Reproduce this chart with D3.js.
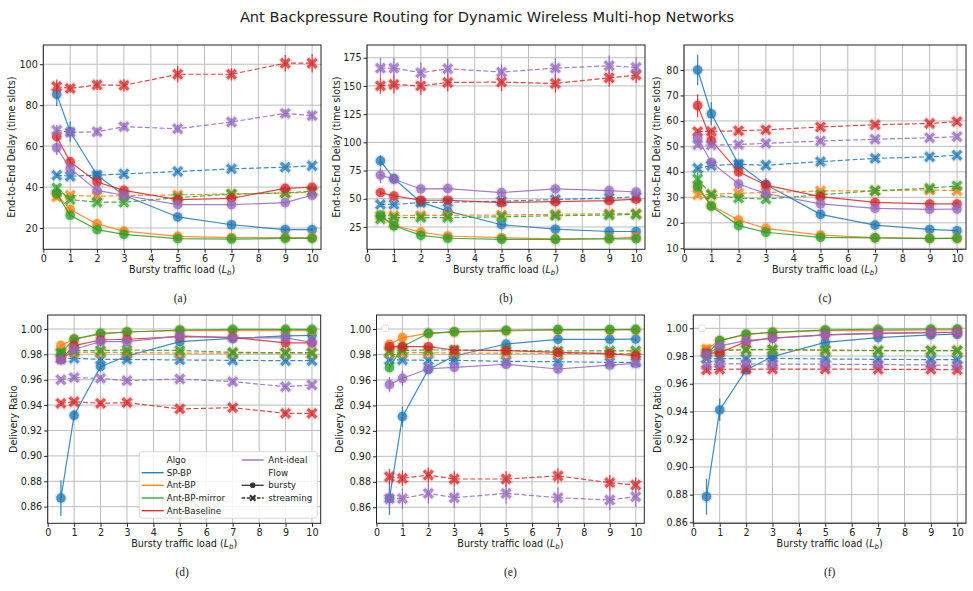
<!DOCTYPE html>
<html lang="en"><head>
<meta charset="utf-8">
<title>Ant Backpressure Routing</title>
<script src="https://cdn.jsdelivr.net/npm/d3@7/dist/d3.min.js"></script>
<style>
body { margin: 0; background: #fff; }
text { font-family: "DejaVu Sans", sans-serif; fill: #222; }
</style>
</head>
<body>
<script type="text/javascript">

var width = 973;
var height = 591;

// shared categories
var loads = [0.5, 1, 2, 3, 5, 7, 9, 10];
var algos = ["SP-BP", "Ant-BP", "Ant-BP-mirror", "Ant-Baseline", "Ant-ideal"];
var flows = ["bursty", "streaming"];
var colors = ["#1f77b4", "#ff7f0e", "#2ca02c", "#d62728", "#9467bd"];
var xTicks = [0, 1, 2, 3, 4, 5, 6, 7, 8, 9, 10];

var ticksA = [20, 40, 60, 80, 100];
var ticksB = [25, 50, 75, 100, 125, 150, 175];
var ticksC = [10, 20, 30, 40, 50, 60, 70, 80];
var ticksRatio = [0.86, 0.88, 0.90, 0.92, 0.94, 0.96, 0.98, 1.00];

// (a) delay, rows follow algos
var delayA_bursty = [
    [85.3, 67, 45.8, 36, 25.4, 21.6, 19.2, 19.2],
    [36.3, 29, 22, 18.5, 15.9, 15.3, 15.3, 15.3],
    [36.8, 26.2, 19.2, 16.9, 14.8, 14.6, 14.9, 14.9],
    [64.6, 52.3, 42.5, 38.4, 33.9, 34.5, 39.4, 39.9],
    [59.2, 49, 38.4, 36, 31.4, 31.4, 32.4, 36]
];
var delayA_streaming = [
    [45.8, 45.3, 45.8, 46.4, 47.6, 48.9, 49.7, 50.4],
    [35.2, 36, 35.5, 35.8, 36.2, 36.7, 37.1, 37.5],
    [39.6, 33.9, 32.6, 32.6, 34.9, 36.5, 37.1, 38],
    [89.1, 88.2, 89.9, 89.7, 95.1, 95.1, 100.5, 100.5],
    [67.8, 66.7, 67, 69.5, 68.5, 71.8, 76, 74.9]
];
var delayA_burstyErr = [
    [5.7, 5, 1, 1, 1, 1, 0.6, 0.6],
    [1, 1, 0.5, 0.5, 0.4, 0.4, 0.4, 0.4],
    [1, 1, 0.5, 0.5, 0.4, 0.4, 0.4, 0.4],
    [2.5, 2, 1, 1, 1, 1, 1.2, 1.2],
    [3.5, 2, 1, 1, 1, 1, 1, 1.2]
];
var delayA_streamingErr = [
    [1, 1, 1, 1, 1, 1, 1, 1],
    [1, 1, 1, 1, 1, 1, 1, 1],
    [1.5, 1, 1, 1, 1, 1, 1, 1],
    [3.4, 2, 2.5, 3, 4, 3, 4, 4.5],
    [2.5, 2, 2, 2, 2, 2, 2, 2.5]
];

// (b) delay
var delayB_bursty = [
    [83.6, 67.9, 47, 39, 27, 23, 21, 21],
    [34, 26.5, 20.5, 17, 15.5, 14.5, 15, 16],
    [35.5, 26, 17.5, 15, 14, 14, 14.5, 14.5],
    [55.5, 52.5, 48.7, 48.7, 46.6, 47.5, 48.4, 49.6],
    [71, 67.3, 58.7, 59, 55.5, 58.7, 57.2, 56]
];
var delayB_streaming = [
    [45, 45, 46.6, 47, 47.8, 49.3, 50.7, 51.6],
    [35, 35, 35.3, 35.3, 35.6, 36.2, 36.8, 36.8],
    [32, 33.3, 33.3, 33.3, 34, 35, 35.6, 36.2],
    [150.1, 151.3, 150.1, 153.1, 153.4, 152.2, 157.2, 159.6],
    [165.8, 165.8, 161.7, 165.2, 162.3, 165.8, 167.9, 166.4]
];
var delayB_burstyErr = [
    [5, 3, 1, 3, 1, 1, 1, 1],
    [1, 1, 1, 1, 1, 1, 1, 1],
    [1, 1, 1, 1, 1, 1, 1, 1],
    [2, 2, 1.5, 1.5, 1.5, 1.5, 1.5, 1.5],
    [7, 4, 2, 2, 2, 2, 2, 2]
];
var delayB_streamingErr = [
    [1.5, 1.5, 1.5, 1.5, 1.5, 1.5, 1.5, 1.5],
    [1, 1, 1, 1, 1, 1, 1, 1],
    [1, 1, 1, 1, 1, 1, 1, 1],
    [7, 8, 8, 8, 8, 8, 8, 7],
    [9, 9, 9, 9, 7, 9, 9, 9]
];

// (c) delay
var delayC_bursty = [
    [80, 62.8, 43, 35, 23.3, 19.1, 17.4, 16.9],
    [34.6, 26.8, 21.1, 17.8, 15.2, 14.2, 13.9, 14],
    [34, 26.5, 18.9, 16.3, 14.3, 14.1, 13.8, 13.9],
    [66, 52.3, 40, 34.8, 30.3, 28, 27.4, 27.4],
    [53.2, 43.7, 35.2, 31.5, 27.4, 25.7, 25.3, 25.4]
];
var delayC_streaming = [
    [41.4, 42.5, 43, 42.6, 44, 45.3, 45.9, 46.5],
    [31, 31.2, 31.6, 31.9, 32.5, 32.6, 32.9, 32.6],
    [37.2, 31, 29.7, 29.3, 31, 32.6, 33.6, 34.5],
    [55.8, 55.9, 56.1, 56.5, 57.6, 58.5, 59, 59.7],
    [50.6, 50.5, 50.7, 51.2, 52.1, 52.8, 53.4, 53.8]
];
var delayC_burstyErr = [
    [6, 4.5, 1, 2.5, 1, 0.8, 0.6, 0.6],
    [1, 0.8, 0.5, 0.5, 0.4, 0.4, 0.4, 0.4],
    [1.5, 0.8, 0.5, 0.5, 0.4, 0.4, 0.4, 0.4],
    [4.5, 2.5, 1, 1, 0.8, 0.8, 0.8, 0.8],
    [2, 1.5, 1, 0.8, 0.8, 0.8, 0.8, 0.8]
];
var delayC_streamingErr = [
    [1, 1, 1, 1, 1, 1, 1, 1],
    [1, 0.8, 0.8, 0.8, 0.8, 0.8, 0.8, 0.8],
    [3, 1, 1, 1, 1, 1, 1, 1],
    [1, 1, 1, 1, 1, 1, 1, 1],
    [1, 1, 1, 1, 1, 1, 1, 1]
];

// (d) delivery ratio
var ratioD_bursty = [
    [0.8668, 0.932, 0.9703, 0.9787, 0.990, 0.9926, 0.9945, 0.995],
    [0.987, 0.9919, 0.996, 0.9976, 0.9987, 0.9987, 0.9987, 0.9987],
    [0.981, 0.992, 0.9966, 0.9976, 0.9992, 0.9997, 0.9997, 0.9997],
    [0.976, 0.9869, 0.9913, 0.9919, 0.994, 0.9934, 0.989, 0.989],
    [0.9756, 0.984, 0.990, 0.990, 0.9945, 0.993, 0.993, 0.9895]
];
var ratioD_streaming = [
    [0.9769, 0.9769, 0.976, 0.976, 0.9756, 0.9753, 0.975, 0.975],
    [0.9815, 0.9815, 0.9815, 0.9815, 0.981, 0.981, 0.981, 0.981],
    [0.981, 0.983, 0.983, 0.9834, 0.983, 0.9816, 0.9813, 0.9813],
    [0.9414, 0.9427, 0.9414, 0.942, 0.937, 0.938, 0.9335, 0.9335],
    [0.960, 0.9617, 0.9611, 0.9593, 0.9606, 0.9585, 0.9545, 0.9559]
];
var ratioD_burstyErr = [
    [0.014, 0.004, 0.002, 0.001, 0.001, 0.001, 0.001, 0.001],
    [0.001, 0.001, 0.001, 0.001, 0.001, 0.001, 0.001, 0.001],
    [0.002, 0.001, 0.001, 0.001, 0.001, 0.001, 0.001, 0.001],
    [0.002, 0.001, 0.001, 0.001, 0.001, 0.001, 0.001, 0.001],
    [0.003, 0.002, 0.001, 0.001, 0.001, 0.001, 0.001, 0.001]
];
var ratioD_streamingErr = [
    [0.001, 0.001, 0.001, 0.001, 0.001, 0.001, 0.001, 0.001],
    [0.001, 0.001, 0.001, 0.001, 0.001, 0.001, 0.001, 0.001],
    [0.001, 0.001, 0.001, 0.001, 0.001, 0.001, 0.001, 0.001],
    [0.002, 0.002, 0.002, 0.002, 0.002, 0.002, 0.002, 0.002],
    [0.002, 0.002, 0.002, 0.002, 0.002, 0.002, 0.002, 0.002]
];

// (e) delivery ratio
var ratioE_bursty = [
    [0.867, 0.9312, 0.9683, 0.9788, 0.9882, 0.9919, 0.9919, 0.9921],
    [0.988, 0.9932, 0.9966, 0.9976, 0.9984, 0.9992, 0.9992, 0.9992],
    [0.9696, 0.986, 0.9966, 0.9979, 0.999, 0.9995, 0.9995, 0.9997],
    [0.9861, 0.9861, 0.9861, 0.9835, 0.983, 0.9817, 0.9806, 0.979],
    [0.9563, 0.9613, 0.9688, 0.9699, 0.9723, 0.9686, 0.9717, 0.973]
];
var ratioE_streaming = [
    [0.9757, 0.9757, 0.9754, 0.9754, 0.9746, 0.9743, 0.9738, 0.9738],
    [0.9814, 0.9814, 0.9814, 0.9812, 0.981, 0.9809, 0.9808, 0.9806],
    [0.9825, 0.9832, 0.9835, 0.9835, 0.9832, 0.9827, 0.9829, 0.9829],
    [0.884, 0.8827, 0.8853, 0.8822, 0.8822, 0.8846, 0.8793, 0.8775],
    [0.8668, 0.8668, 0.8709, 0.8675, 0.8709, 0.8675, 0.8657, 0.8683]
];
var ratioE_burstyErr = [
    [0.013, 0.008, 0.002, 0.001, 0.001, 0.001, 0.001, 0.001],
    [0.001, 0.001, 0.001, 0.001, 0.001, 0.001, 0.001, 0.001],
    [0.003, 0.002, 0.001, 0.001, 0.001, 0.001, 0.001, 0.001],
    [0.002, 0.002, 0.001, 0.001, 0.001, 0.001, 0.001, 0.001],
    [0.006, 0.006, 0.003, 0.003, 0.003, 0.003, 0.002, 0.002]
];
var ratioE_streamingErr = [
    [0.001, 0.001, 0.001, 0.001, 0.001, 0.001, 0.001, 0.001],
    [0.001, 0.001, 0.001, 0.001, 0.001, 0.001, 0.001, 0.001],
    [0.001, 0.001, 0.001, 0.001, 0.001, 0.001, 0.001, 0.001],
    [0.006, 0.006, 0.006, 0.006, 0.006, 0.006, 0.006, 0.006],
    [0.008, 0.008, 0.008, 0.008, 0.008, 0.008, 0.008, 0.008]
];

// (f) delivery ratio
var ratioF_bursty = [
    [0.8785, 0.9411, 0.970, 0.9796, 0.9899, 0.9933, 0.9952, 0.9957],
    [0.9848, 0.9911, 0.9954, 0.9971, 0.9983, 0.9983, 0.9988, 0.9988],
    [0.9808, 0.9911, 0.9959, 0.9971, 0.9988, 0.9993, 0.9995, 0.9995],
    [0.982, 0.9824, 0.9904, 0.993, 0.9952, 0.9964, 0.9969, 0.9969],
    [0.9808, 0.9873, 0.9911, 0.9928, 0.9952, 0.9964, 0.9971, 0.9971]
];
var ratioF_streaming = [
    [0.9783, 0.9781, 0.9781, 0.9783, 0.9779, 0.9776, 0.9774, 0.9774],
    [0.9848, 0.9844, 0.9844, 0.9844, 0.9839, 0.9839, 0.9839, 0.9839],
    [0.982, 0.9839, 0.9846, 0.9848, 0.9844, 0.9839, 0.9839, 0.9839],
    [0.970, 0.9704, 0.9706, 0.9706, 0.9706, 0.9704, 0.9704, 0.970],
    [0.9735, 0.9743, 0.9743, 0.9741, 0.9741, 0.9738, 0.9735, 0.9733]
];
var ratioF_burstyErr = [
    [0.013, 0.008, 0.002, 0.001, 0.001, 0.001, 0.001, 0.001],
    [0.001, 0.001, 0.001, 0.001, 0.001, 0.001, 0.001, 0.001],
    [0.001, 0.001, 0.001, 0.001, 0.001, 0.001, 0.001, 0.001],
    [0.002, 0.001, 0.001, 0.001, 0.001, 0.001, 0.001, 0.001],
    [0.002, 0.001, 0.001, 0.001, 0.001, 0.001, 0.001, 0.001]
];
var ratioF_streamingErr = [
    [0.001, 0.001, 0.001, 0.001, 0.001, 0.001, 0.001, 0.001],
    [0.001, 0.001, 0.001, 0.001, 0.001, 0.001, 0.001, 0.001],
    [0.001, 0.001, 0.001, 0.001, 0.001, 0.001, 0.001, 0.001],
    [0.002, 0.001, 0.001, 0.001, 0.001, 0.001, 0.001, 0.002],
    [0.002, 0.001, 0.001, 0.001, 0.001, 0.001, 0.001, 0.001]
];

var delayLabel = "End-to-End Delay (time slots)";
var ratioLabel = "Delivery Ratio";

// layout of the six axes (frame box in px, y range)
var panels = [
    {cap: "(a)", box: [43.3, 45, 321, 249.3], y: [9.6, 109.4], ticks: ticksA, fmt: d3.format("d"), ylab: delayLabel, ylx: 12,
     data: [delayA_bursty, delayA_streaming], err: [delayA_burstyErr, delayA_streamingErr]},
    {cap: "(b)", box: [367, 45, 645, 249.3], y: [5.2, 186.3], ticks: ticksB, fmt: d3.format("d"), ylab: delayLabel, ylx: 337,
     data: [delayB_bursty, delayB_streaming], err: [delayB_burstyErr, delayB_streamingErr]},
    {cap: "(c)", box: [684, 45, 966, 249.3], y: [9.6, 89.8], ticks: ticksC, fmt: d3.format("d"), ylab: delayLabel, ylx: 657,
     data: [delayC_bursty, delayC_streaming], err: [delayC_burstyErr, delayC_streamingErr]},
    {cap: "(d)", box: [47.7, 315, 320.7, 523.3], y: [0.8469, 1.011], ticks: ticksRatio, fmt: d3.format(".2f"), ylab: ratioLabel, ylx: 14,
     data: [ratioD_bursty, ratioD_streaming], err: [ratioD_burstyErr, ratioD_streamingErr], legend: true},
    {cap: "(e)", box: [376.5, 315, 644.3, 523.3], y: [0.8474, 1.011], ticks: ticksRatio, fmt: d3.format(".2f"), ylab: ratioLabel, ylx: 340,
     data: [ratioE_bursty, ratioE_streaming], err: [ratioE_burstyErr, ratioE_streamingErr], emptyLegend: true},
    {cap: "(f)", box: [693.3, 315, 966, 523.3], y: [0.8593, 1.0096], ticks: ticksRatio, fmt: d3.format(".2f"), ylab: ratioLabel, ylx: 658,
     data: [ratioF_bursty, ratioF_streaming], err: [ratioF_burstyErr, ratioF_streamingErr], emptyLegend: true}
];

var svg = d3.select("body").append("svg")
    .attr("width", width)
    .attr("height", height);

svg.append("text")
    .attr("x", 487).attr("y", 22)
    .attr("text-anchor", "middle")
    .style("font-size", "14.6px")
    .text("Ant Backpressure Routing for Dynamic Wireless Multi-hop Networks");

// filled "X" marker like matplotlib's
function xMarkPath(e, w) {
    var pts = [[w, e], [w, w], [e, w], [e, -w], [w, -w], [w, -e], [-w, -e], [-w, -w], [-e, -w], [-e, w], [-w, w], [-w, e]];
    var c = Math.SQRT1_2;
    return "M" + pts.map(p => [(p[0] - p[1]) * c, (p[0] + p[1]) * c].map(v => v.toFixed(2)).join(",")).join("L") + "Z";
}
var xPath = xMarkPath(6.1, 1.6);

function drawMarker(g, flow, color, cx, cy) {
    if (flow == 0) {
        g.append("circle").attr("cx", cx).attr("cy", cy).attr("r", 6.3)
            .attr("fill", color).attr("fill-opacity", 0.14);
        g.append("circle").attr("cx", cx).attr("cy", cy).attr("r", 4.8)
            .attr("fill", color).attr("fill-opacity", 0.75);
    } else {
        g.append("path").attr("d", xPath).attr("transform", `translate(${cx},${cy})`)
            .attr("fill", "none").attr("stroke", color).attr("stroke-opacity", 0.16).attr("stroke-width", 2.6)
            .attr("stroke-linejoin", "round");
        g.append("path").attr("d", xPath).attr("transform", `translate(${cx},${cy})`)
            .attr("fill", color).attr("fill-opacity", 0.75);
    }
}

panels.forEach((p) => {
    var x = d3.scaleLinear().domain([0, 10.33]).range([p.box[0], p.box[2]]);
    var y = d3.scaleLinear().domain(p.y).range([p.box[3], p.box[1]]);
    var g = svg.append("g");

    // grid
    g.selectAll(".vg").data(xTicks).enter().append("line")
        .attr("x1", d => x(d)).attr("x2", d => x(d))
        .attr("y1", p.box[1]).attr("y2", p.box[3])
        .attr("stroke", "#bdbdbd").attr("stroke-width", 1);
    g.selectAll(".hg").data(p.ticks).enter().append("line")
        .attr("x1", p.box[0]).attr("x2", p.box[2])
        .attr("y1", d => y(d)).attr("y2", d => y(d))
        .attr("stroke", "#bdbdbd").attr("stroke-width", 1);

    var clip = "clip" + p.cap.replace(/\W/g, "");
    svg.append("clipPath").attr("id", clip).append("rect")
        .attr("x", p.box[0]).attr("y", p.box[1])
        .attr("width", p.box[2] - p.box[0]).attr("height", p.box[3] - p.box[1]);
    var plot = g.append("g").attr("clip-path", `url(#${clip})`);

    var line = d3.line().x((d, i) => x(loads[i])).y(d => y(d));

    algos.forEach((a, ai) => {
        flows.forEach((f, fi) => {
            var vals = p.data[fi][ai];
            var errs = p.err[fi][ai];
            var color = colors[ai];
            var s = plot.append("g");
            s.append("path").datum(vals)
                .attr("d", line)
                .attr("fill", "none")
                .attr("stroke", color)
                .attr("stroke-opacity", 0.85)
                .attr("stroke-width", 1.2)
                .attr("stroke-dasharray", fi == 1 ? "5,2.4" : null);
            vals.forEach((v, i) => {
                s.append("line")
                    .attr("x1", x(loads[i])).attr("x2", x(loads[i]))
                    .attr("y1", y(v - errs[i])).attr("y2", y(v + errs[i]))
                    .attr("stroke", color).attr("stroke-opacity", 0.85).attr("stroke-width", 1.3);
            });
            vals.forEach((v, i) => drawMarker(s, fi, color, x(loads[i]), y(v)));
        });
    });

    // frame
    g.append("rect")
        .attr("x", p.box[0]).attr("y", p.box[1])
        .attr("width", p.box[2] - p.box[0]).attr("height", p.box[3] - p.box[1])
        .attr("fill", "none").attr("stroke", "#222").attr("stroke-width", 1);

    var xAxis = g.append("g").attr("transform", `translate(0,${p.box[3]})`)
        .call(d3.axisBottom(x).tickValues(xTicks).tickSize(3.5).tickPadding(2).tickFormat(d3.format("d")));
    var yAxis = g.append("g").attr("transform", `translate(${p.box[0]},0)`)
        .call(d3.axisLeft(y).tickValues(p.ticks).tickSize(3.5).tickPadding(2).tickFormat(p.fmt));
    [xAxis, yAxis].forEach((ax) => {
        ax.select(".domain").remove();
        ax.selectAll("line").attr("stroke", "#222");
        ax.selectAll("text").style("font-size", "9.6px").style("font-family", "DejaVu Sans").attr("fill", "#222");
    });

    var cx = (p.box[0] + p.box[2]) / 2;
    var xl = g.append("text")
        .attr("x", cx).attr("y", p.box[3] + 24)
        .attr("text-anchor", "middle")
        .style("font-size", "9.6px");
    xl.append("tspan").text("Bursty traffic load (");
    xl.append("tspan").style("font-style", "italic").text("L");
    xl.append("tspan").style("font-style", "italic").style("font-size", "7px").attr("dy", 2).text("b");
    xl.append("tspan").attr("dy", -2).text(")");

    g.append("text")
        .attr("transform", `translate(${p.ylx},${(p.box[1] + p.box[3]) / 2}) rotate(-90)`)
        .attr("text-anchor", "middle")
        .attr("dy", "0.35em")
        .style("font-size", "9.6px")
        .text(p.ylab);

    g.append("text")
        .attr("x", (p.box[0] + p.box[2]) / 2 + (p.cap == "(a)" || p.cap == "(d)" ? -2 : 0))
        .attr("y", p.box[3] + 53)
        .attr("text-anchor", "middle")
        .style("font-family", "Liberation Serif, serif")
        .style("font-size", "11.5px")
        .text(p.cap);

    if (p.emptyLegend) {
        g.append("rect")
            .attr("x", p.box[0] + 5.5).attr("y", p.box[1] + 10)
            .attr("width", 6.5).attr("height", 6.5).attr("rx", 1.5)
            .attr("fill", "#fff").attr("stroke", "#d8d8d8").attr("stroke-width", 0.8);
    }

    if (p.legend) {
        var lg = g.append("g");
        lg.append("rect")
            .attr("x", 139.3).attr("y", 451.7).attr("width", 178).attr("height", 66.5).attr("rx", 2.5)
            .attr("fill", "#fff").attr("fill-opacity", 0.85)
            .attr("stroke", "#d0d0d0").attr("stroke-width", 0.8);
        var rowY = [460, 472.7, 485.3, 498, 510.7];
        var col1 = algos.slice(0, 4).map((a, i) => ({label: a, color: colors[i], dash: null, mark: null}));
        var col2 = [
            {label: algos[4], color: colors[4], dash: null, mark: null},
            {label: "Flow", header: true},
            {label: flows[0], color: "#333", dash: null, mark: 0},
            {label: flows[1], color: "#333", dash: "3.5,1.6", mark: 1}
        ];
        col1.unshift({label: "Algo", header: true});
        [[col1, 141.7, 166.7], [col2, 241.7, 268.3]].forEach((c) => {
            c[0].forEach((e, i) => {
                var yy = rowY[i];
                if (!e.header) {
                    lg.append("line")
                        .attr("x1", c[1]).attr("x2", c[1] + 22)
                        .attr("y1", yy).attr("y2", yy)
                        .attr("stroke", e.color).attr("stroke-width", 1.3)
                        .attr("stroke-dasharray", e.dash);
                    if (e.mark === 0) {
                        lg.append("circle").attr("cx", c[1] + 11).attr("cy", yy).attr("r", 2.8).attr("fill", e.color);
                    } else if (e.mark === 1) {
                        lg.append("path").attr("d", xMarkPath(3.8, 1.1))
                            .attr("transform", `translate(${c[1] + 11},${yy})`).attr("fill", e.color);
                    }
                }
                lg.append("text")
                    .attr("x", c[2]).attr("y", yy).attr("dy", "0.35em")
                    .style("font-size", "8.7px")
                    .text(e.label);
            });
        });
    }
});

</script>
</body></html>
